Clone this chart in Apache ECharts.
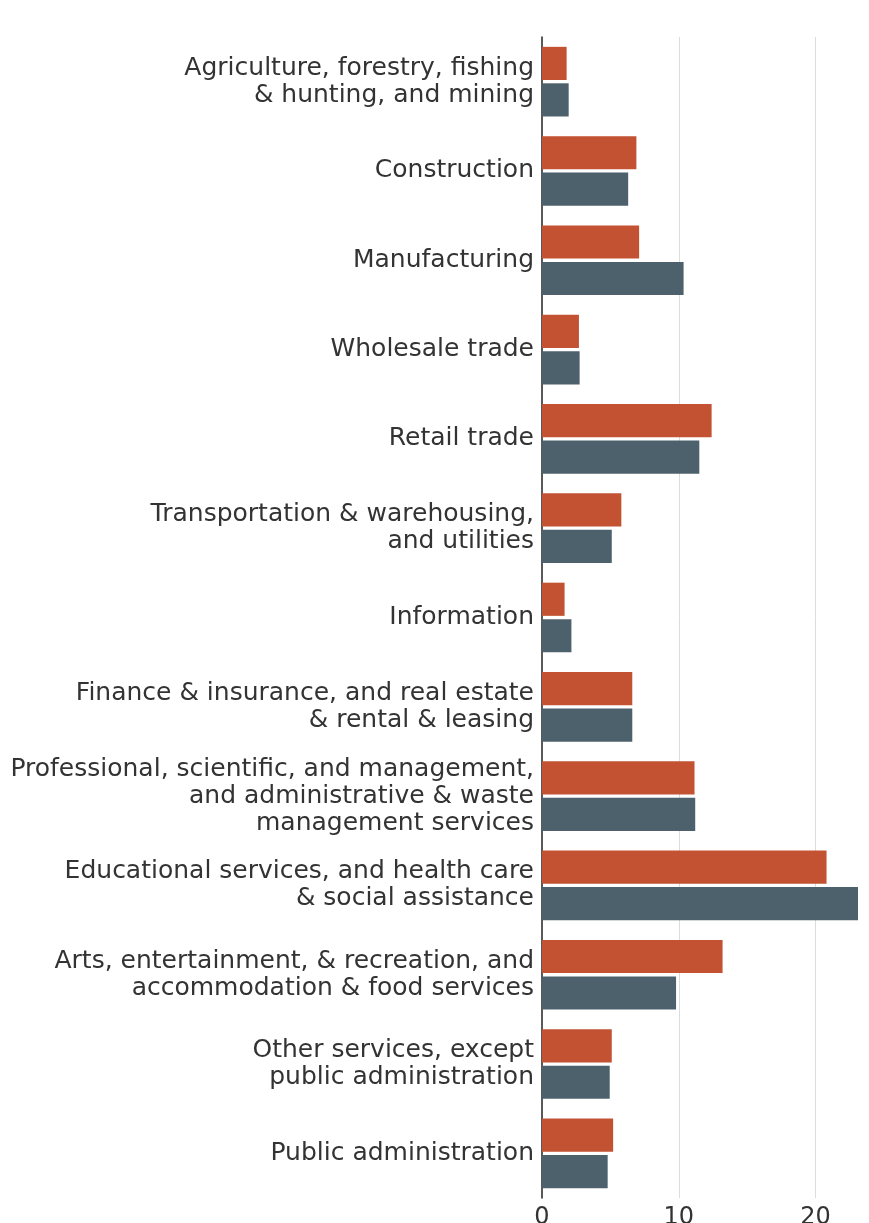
<!DOCTYPE html>
<html>
<head>
<meta charset="utf-8">
<script src="https://cdn.jsdelivr.net/npm/echarts@6/dist/echarts.min.js"></script>
<style>
  html, body { margin: 0; padding: 0; background: #fff; }
  #chart { width: 869px; height: 1223px; }
</style>
</head>
<body>
<div id="chart"></div>
<script>
// categories, top to bottom
var industries = [
  'Agriculture, forestry, fishing\n& hunting, and mining',
  'Construction',
  'Manufacturing',
  'Wholesale trade',
  'Retail trade',
  'Transportation & warehousing,\nand utilities',
  'Information',
  'Finance & insurance, and real estate\n& rental & leasing',
  'Professional, scientific, and management,\nand administrative & waste\nmanagement services',
  'Educational services, and health care\n& social assistance',
  'Arts, entertainment, & recreation, and\naccommodation & food services',
  'Other services, except\npublic administration',
  'Public administration'
];
var orangeValues = [1.8, 6.9, 7.1, 2.7, 12.4, 5.8, 1.65, 6.6, 11.15, 20.8, 13.2, 5.1, 5.2];
var slateValues  = [1.95, 6.3, 10.35, 2.75, 11.5, 5.1, 2.15, 6.6, 11.2, 23.1, 9.8, 4.95, 4.8];
var xTicks = [0, 10, 20];

var myChart = echarts.init(document.getElementById('chart'));
var option = {
  animation: false,
  textStyle: { fontFamily: 'DejaVu Sans' },
  grid: {
    left: 542, right: 11, top: 37, bottom: 25,
    containLabel: false,
    outerBoundsMode: 'none'
  },
  xAxis: {
    type: 'value',
    min: 0,
    max: 23.1,
    interval: 10,
    axisLine: { show: false },
    axisTick: { show: false },
    splitLine: {
      show: true,
      showMinLine: false,
      showMaxLine: false,
      lineStyle: { color: '#dcdcdc', width: 1 }
    },
    axisLabel: {
      margin: 8,
      fontSize: 24,
      color: '#333',
      showMaxLabel: false,
      formatter: function (v) { return xTicks.indexOf(v) >= 0 ? String(v) : ''; }
    }
  },
  yAxis: {
    type: 'category',
    inverse: true,
    data: industries,
    axisLine: { show: true, lineStyle: { color: '#222', width: 1.5 } },
    axisTick: { show: false },
    axisLabel: {
      margin: 8,
      fontSize: 25,
      lineHeight: 27,
      color: '#333',
      align: 'right'
    }
  },
  series: [
    {
      name: 'Series 1',
      type: 'bar',
      data: orangeValues,
      barGap: '10%',
      barCategoryGap: '22%',
      itemStyle: { color: '#c25232' }
    },
    {
      name: 'Series 2',
      type: 'bar',
      data: slateValues,
      itemStyle: { color: '#4c616c' }
    }
  ]
};
myChart.setOption(option);
</script>
</body>
</html>
